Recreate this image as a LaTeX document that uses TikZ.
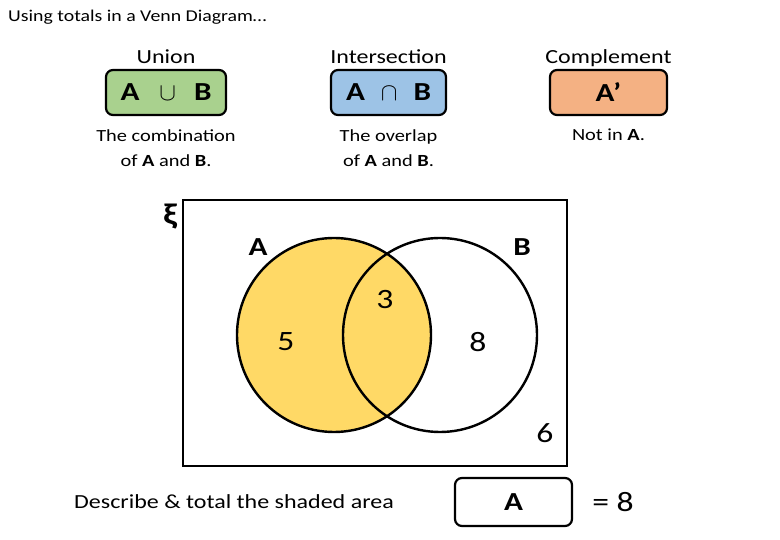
\documentclass[tikz,border=0pt]{standalone}
\usepackage{fontspec}
\setmainfont{Carlito}[FakeStretch=1.2]
\usetikzlibrary{positioning}

\definecolor{uniongreen}{HTML}{A9D18E}
\definecolor{interblue}{HTML}{9DC3E6}
\definecolor{comporange}{HTML}{F4B183}
\definecolor{shadeyellow}{HTML}{FFD966}

\begin{document}
\begin{tikzpicture}[x=1pt, y=-1pt,
    opbox/.style={draw, rectangle, rounded corners=7pt, minimum height=45pt, line width=2.2pt, inner sep=0pt, font=\fontsize{26}{28}\selectfont\bfseries},
    head/.style={font=\fontsize{20}{22}\selectfont, inner sep=0pt},
    note/.style={font=\fontsize{17}{25}\selectfont, align=center, inner sep=1pt},
    num/.style={font=\fontsize{28}{30}\selectfont},
    setlbl/.style={font=\fontsize{26}{28}\selectfont\bfseries},
    setcirc/.style={circle, draw, line width=2.4pt, minimum size=194pt, inner sep=0pt}
]
    \useasboundingbox (0,0) rectangle (780,540);

    % Title
    \node[anchor=west, font=\fontsize{16.5}{19}\selectfont, inner sep=0pt] (title) at (8,17) {Using totals in a Venn Diagram…};

    % Union
    \node[opbox, fill=uniongreen, minimum width=120pt] (union) at (166,92.5) {A\hspace{20pt}$\cup$\hspace{18pt}B};
    \node[head, above=5pt of union, anchor=base] (unionhead) {Union};
    \node[note, below=12pt of union] (unionnote) {The combination\\of \textbf{A} and \textbf{B}.};

    % Intersection
    \node[opbox, fill=interblue, minimum width=115pt] (inter) at (388.5,92.5) {A\hspace{16pt}$\cap$\hspace{16pt}B};
    \node[head, above=5pt of inter, anchor=base] (interhead) {Intersection};
    \node[note, below=12pt of inter] (internote) {The overlap\\of \textbf{A} and \textbf{B}.};

    % Complement
    \node[opbox, fill=comporange, minimum width=117pt] (comp) at (608.5,92.5) {A’};
    \node[head, above=5pt of comp, anchor=base] (comphead) {Complement};
    \node[note, below=12pt of comp] (compnote) {Not in \textbf{A}.};

    % Venn diagram
    \node[draw, line width=2.6pt, minimum width=384pt, minimum height=266pt] (univ) at (375,333) {};
    \node[font=\fontsize{30}{32}\selectfont\bfseries] (xi) at (170,217) {ξ};
    \node[setcirc, fill=shadeyellow] (setA) at (334,335) {};
    \node[setcirc] (setB) at (440,335) {};
    \node[setlbl] (lblA) at (258,247) {A};
    \node[setlbl] (lblB) at (522,247) {B};
    \node[num] (nboth) at (385,300) {3};
    \node[num] (nA) at (286,342) {5};
    \node[num] (nB) at (478,342) {8};
    \node[num] (nout) at (545,433) {6};

    % Answer
    \node[font=\fontsize{20}{22}\selectfont] (ask) at (234,502) {Describe \& total the shaded area};
    \node[opbox, fill=white, minimum width=117pt, minimum height=48pt] (answer) at (513.5,502) {A};
    \node[num] (total) at (613,502) {= 8};
\end{tikzpicture}
\end{document}
